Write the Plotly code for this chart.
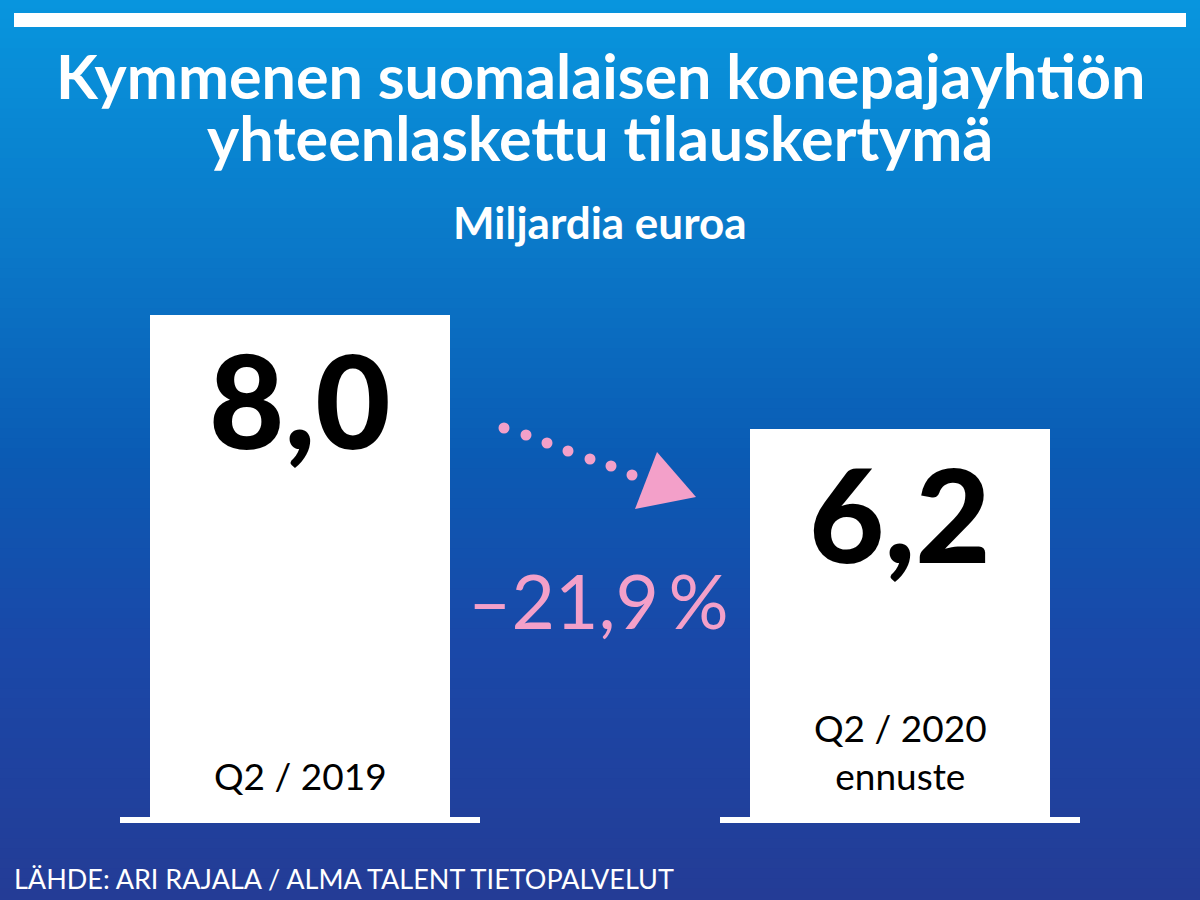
import plotly.graph_objects as go

# ---- data ----
categories = ["Q2 / 2019", "Q2 / 2020<br>ennuste"]
values = [8.0, 6.2]
value_labels = ["8,0", "6,2"]
change_label = "–21,9\u2009%"

title_lines = ["Kymmenen suomalaisen konepajayhtiön", "yhteenlaskettu tilauskertymä"]
subtitle = "Miljardia euroa"
source = "LÄHDE: ARI RAJALA / ALMA TALENT TIETOPALVELUT"

# ---- style ----
W, H = 1200, 900
PINK = "#f3a0c9"
FONT = "Lato"
grad_stops = [(0.0, (8, 150, 222)), (0.28, (10, 120, 200)), (0.5, (10, 92, 180)),
              (0.72, (26, 72, 168)), (1.0, (36, 60, 150))]


def grad_color(t):
    for (t0, c0), (t1, c1) in zip(grad_stops[:-1], grad_stops[1:]):
        if t0 <= t <= t1:
            f = (t - t0) / (t1 - t0)
            c = [round(a + (b - a) * f) for a, b in zip(c0, c1)]
            return "rgb(%d,%d,%d)" % tuple(c)
    return "rgb(%d,%d,%d)" % grad_stops[-1][1]


shapes = []
n = 90
for i in range(n):
    shapes.append(dict(type="rect", xref="paper", yref="paper", x0=0, x1=1,
                       y0=1 - (i + 1) / n, y1=1 - i / n + 0.002,
                       fillcolor=grad_color((i + 0.5) / n), line_width=0, layer="below"))

# top white rule
shapes.append(dict(type="rect", xref="paper", yref="paper", x0=14 / W, x1=1186 / W,
                   y0=1 - 27 / H, y1=1 - 13 / H, fillcolor="white", line_width=0))

x_idx = list(range(len(categories)))

# axis ranges: baseline (0) at pixel 820, value 8.0 at pixel 315
base_px, top_px = 820, 315
unit = (base_px - top_px) / values[0]
y_hi = base_px / unit
y_lo = y_hi - H / unit

fig = go.Figure()
fig.add_trace(go.Bar(x=x_idx, y=values, width=0.5, marker=dict(color="white", line_width=0),
                     hoverinfo="skip"))

# baselines under the bars
for i in x_idx:
    shapes.append(dict(type="line", xref="x", yref="y", x0=i - 0.3, x1=i + 0.3, y0=0, y1=0,
                       line=dict(color="white", width=6)))

annotations = []
for i, (v, lab, cat) in enumerate(zip(values, value_labels, categories)):
    annotations.append(dict(x=i, y=v, xref="x", yref="y", text=lab, showarrow=False,
                            yanchor="middle", yshift=-84,
                            font=dict(family=FONT, size=130, color="black", weight=900)))
    annotations.append(dict(x=i, y=0, xref="x", yref="y", text=cat, showarrow=False,
                            yanchor="bottom", yshift=20,
                            font=dict(family=FONT, size=37, color="black")))

# titles
for txt, ypx in zip(title_lines, [76, 137]):
    annotations.append(dict(x=0.5, y=1 - ypx / H, xref="paper", yref="paper", text="<b>%s</b>" % txt,
                            showarrow=False, yanchor="middle",
                            font=dict(family=FONT, size=61, color="white", weight=900)))
annotations.append(dict(x=0.5, y=1 - 222 / H, xref="paper", yref="paper", text="<b>%s</b>" % subtitle,
                        showarrow=False, yanchor="middle",
                        font=dict(family=FONT, size=44, color="white", weight=900)))
# change label
annotations.append(dict(x=598 / W, y=1 - 600 / H, xref="paper", yref="paper", text=change_label,
                        showarrow=False, yanchor="middle",
                        font=dict(family=FONT, size=75, color=PINK)))
# source
annotations.append(dict(x=12 / W, y=1 - 878 / H, xref="paper", yref="paper", text=source,
                        showarrow=False, xanchor="left", yanchor="middle",
                        font=dict(family=FONT, size=27, color="white")))

# dotted arrow
dots = [(504, 428), (526, 435), (547, 443), (568, 451), (590, 459), (611, 466), (632, 475)]
r = 5.5
for (px, py) in dots:
    shapes.append(dict(type="circle", xref="paper", yref="paper",
                       x0=(px - r) / W, x1=(px + r) / W, y0=1 - (py + r) / H, y1=1 - (py - r) / H,
                       fillcolor=PINK, line_width=0))
tri = [(657, 452), (696, 497), (635, 509)]
path = "M " + " L ".join("%f,%f" % (px / W, 1 - py / H) for px, py in tri) + " Z"
shapes.append(dict(type="path", xref="paper", yref="paper", path=path, fillcolor=PINK, line_width=0))

fig.update_layout(
    width=W, height=H, margin=dict(l=0, r=0, t=0, b=0),
    paper_bgcolor="rgb(20,90,180)", plot_bgcolor="rgba(0,0,0,0)",
    xaxis=dict(range=[-0.5, 1.5], visible=False, fixedrange=True),
    yaxis=dict(range=[y_lo, y_hi], visible=False, fixedrange=True),
    shapes=shapes, annotations=annotations, showlegend=False, bargap=0,
)

fig.write_html("out.html", config={"displayModeBar": False},
               post_script="document.body.style.margin='0';document.body.style.overflow='hidden';")
